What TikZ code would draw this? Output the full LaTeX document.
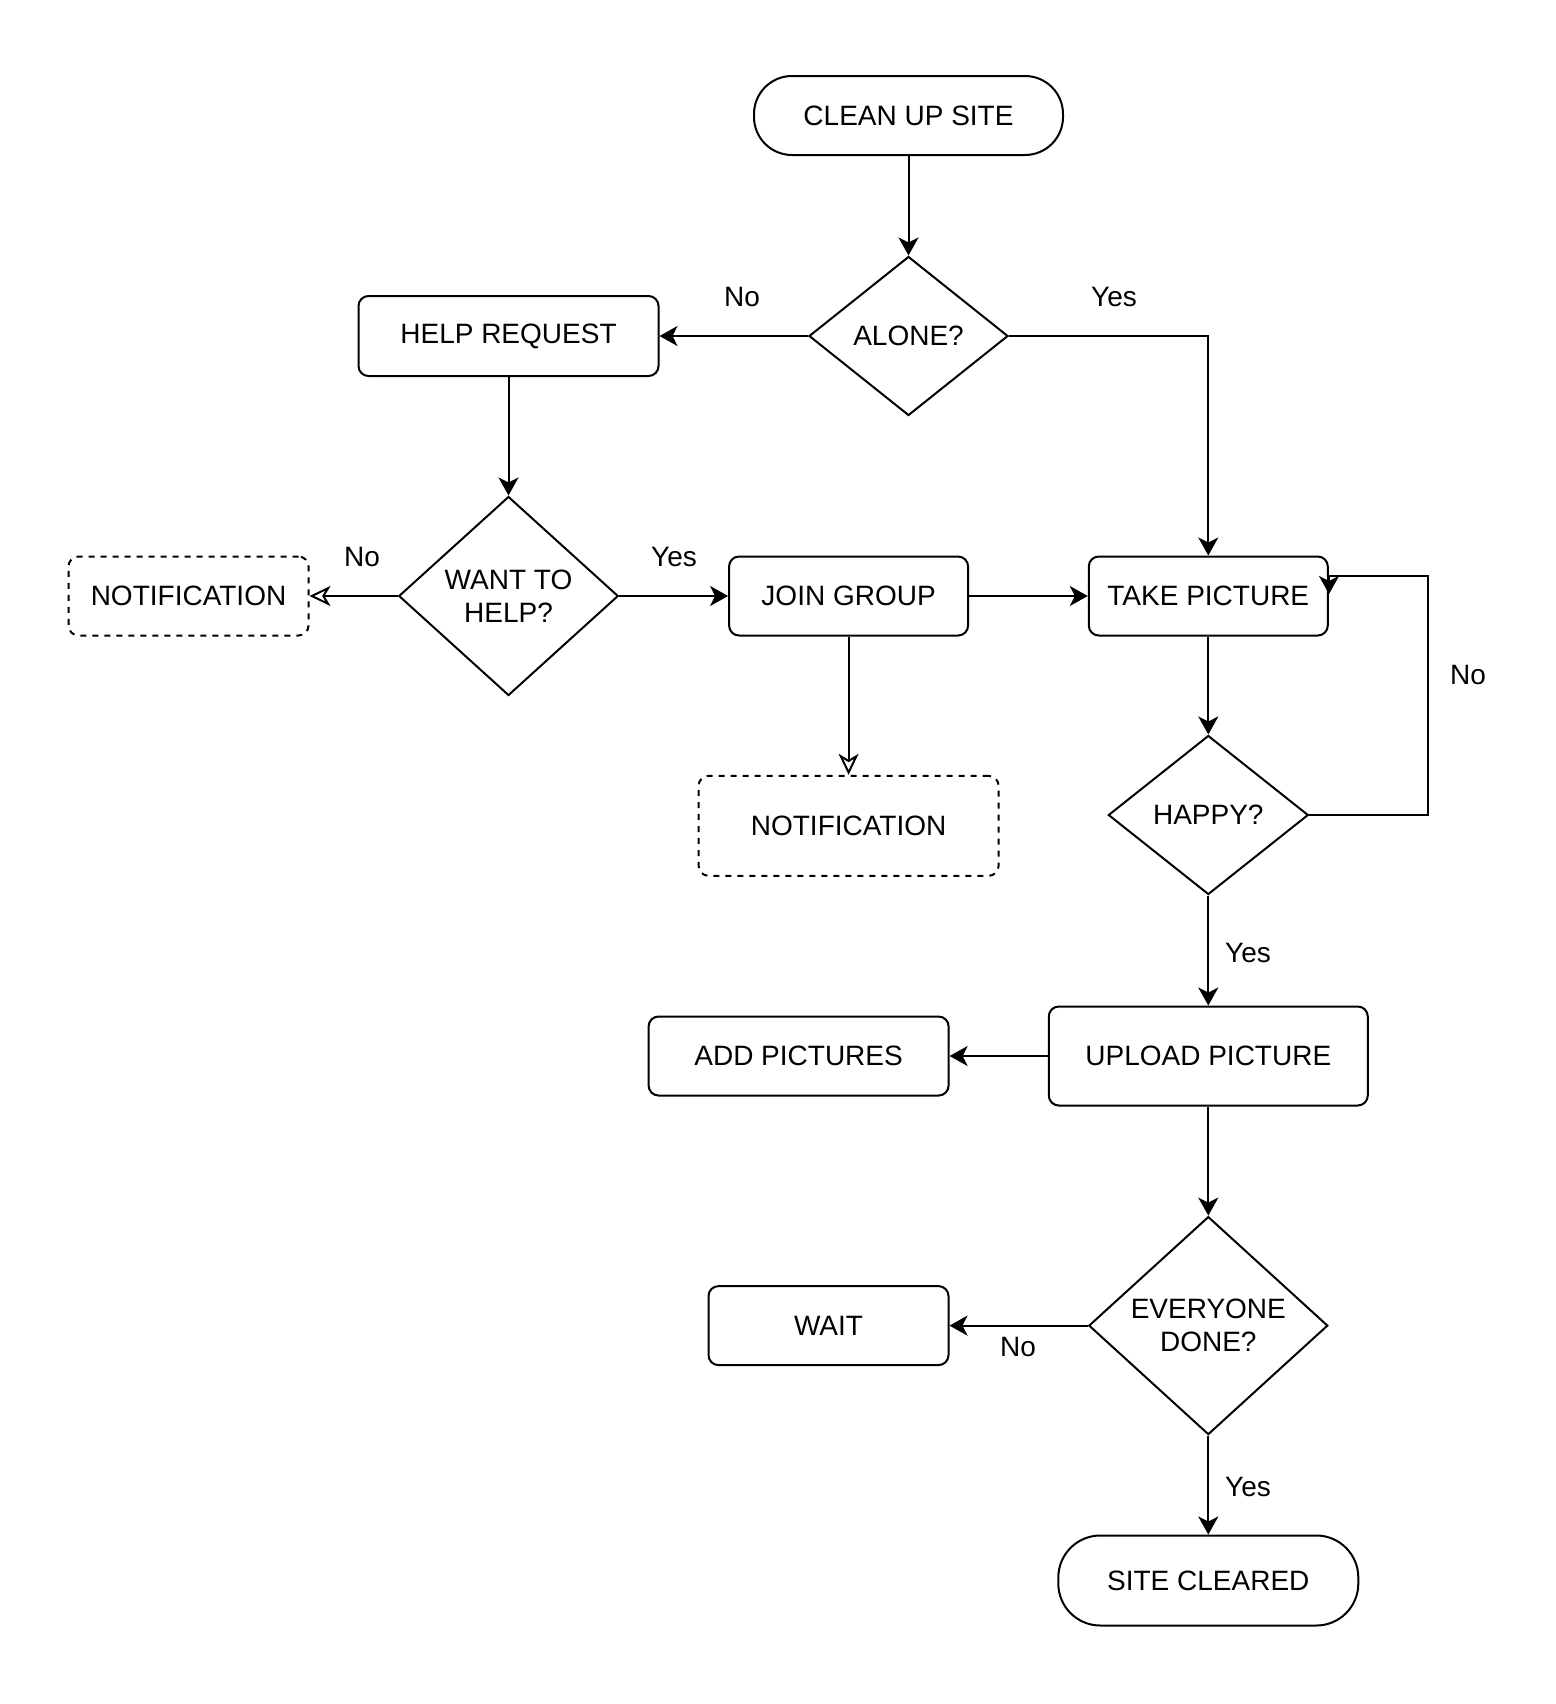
\documentclass[tikz,border=0pt]{standalone}
\usepackage{fontspec}
\setmainfont{Liberation Sans}
\usetikzlibrary{shapes.geometric,arrows.meta}
\begin{document}
\begin{tikzpicture}[x=0.5pt,y=-0.5pt,
  every node/.style={font=\fontsize{14pt}{16.3pt}\selectfont, align=center},
  base/.style={draw, line width=1pt, inner sep=0pt},
  box/.style={base, rectangle, rounded corners=5pt},
  term/.style={base, rectangle, rounded corners=19pt},
  dbox/.style={box, dash pattern=on 3pt off 3pt},
  dec/.style={base, diamond, shape aspect=1.3},
  lbl/.style={inner sep=0pt},
  conn/.style={line width=1pt, -{Stealth[length=9pt,width=10pt,inset=2.5pt]}},
  oconn/.style={line width=1pt, -{Stealth[open,length=10.5pt,width=10pt,inset=3pt,fill=white]}}
]
\useasboundingbox (0,0) rectangle (1556,1704);

\node[term, minimum width=154.5pt, minimum height=39.5pt] (start) at (908.5,115.5) {CLEAN UP SITE};
\node[dec, minimum width=99.5pt, minimum height=79.5pt] (alone) at (908.5,336) {ALONE?};
\node[box, minimum width=150pt, minimum height=40pt] (help) at (508.5,336) {HELP REQUEST};
\node[dec, minimum width=109.75pt, minimum height=99.5pt] (want) at (508.5,596) {WANT TO\\HELP?};
\node[dbox, minimum width=120pt, minimum height=39.5pt] (notifa) at (188.5,596) {NOTIFICATION};
\node[box, minimum width=119.5pt, minimum height=39.5pt] (join) at (848.6,596) {JOIN GROUP};
\node[box, minimum width=119.5pt, minimum height=39.5pt] (take) at (1208.3,596) {TAKE PICTURE};
\node[dbox, minimum width=150pt, minimum height=50pt] (notifb) at (848.6,825.8) {NOTIFICATION};
\node[dec, minimum width=100pt, minimum height=79.5pt] (happy) at (1208.3,815) {HAPPY?};
\node[box, minimum width=159.5pt, minimum height=49.5pt] (upload) at (1208.3,1056) {UPLOAD PICTURE};
\node[box, minimum width=150pt, minimum height=39.5pt] (addpic) at (798.6,1056) {ADD PICTURES};
\node[dec, minimum width=119.5pt, minimum height=109pt] (done) at (1208.3,1325.6) {EVERYONE\\DONE?};
\node[box, minimum width=120pt, minimum height=39.5pt] (wait) at (828.5,1325.6) {WAIT};
\node[term, minimum width=150pt, minimum height=45pt, rounded corners=21pt] (cleared) at (1208.3,1580.5) {SITE CLEARED};

\coordinate (loopa) at (1428,815);
\coordinate (loopb) at (1428,576);
\coordinate (loopc) at (1329,576);
\coordinate (loopend) at (1329,594);

\draw[conn] (start) -- (alone);
\draw[conn] (alone.west) -- (help.east);
\draw[conn] (alone.east) -| (take.north);
\draw[conn] (help) -- (want);
\draw[oconn] (want.west) -- (notifa.east);
\draw[conn] (want.east) -- (join.west);
\draw[conn] (join) -- (take);
\draw[oconn] (join) -- (notifb);
\draw[conn] (take) -- (happy);
\draw[conn] (happy.east) -- (loopa) -- (loopb) -- (loopc) -- (loopend);
\draw[conn] (happy) -- (upload);
\draw[conn] (upload) -- (addpic);
\draw[conn] (upload) -- (done);
\draw[conn] (done.west) -- (wait.east);
\draw[conn] (done) -- (cleared);

\node[lbl] (l1) at (742,297) {No};
\node[lbl] (l2) at (1114,297) {Yes};
\node[lbl] (l3) at (362,557) {No};
\node[lbl] (l4) at (674,557) {Yes};
\node[lbl] (l5) at (1468,675) {No};
\node[lbl] (l6) at (1248,953) {Yes};
\node[lbl] (l7) at (1018,1347) {No};
\node[lbl] (l8) at (1248,1487) {Yes};
\end{tikzpicture}
\end{document}
